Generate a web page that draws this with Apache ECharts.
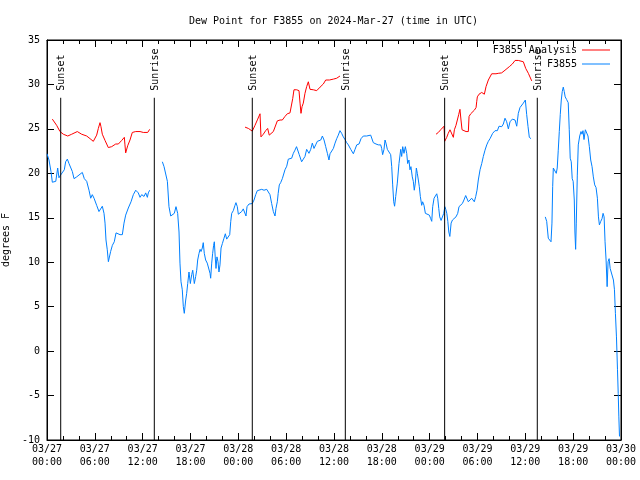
<!DOCTYPE html>
<html><head><meta charset="utf-8">
<script src="https://cdn.jsdelivr.net/npm/echarts@6/dist/echarts.min.js"></script>
<style>html,body{margin:0;padding:0;background:#fff}#c{width:640px;height:480px}</style>
</head><body><div id="c"></div>
<script>
// time in hours since 03/27 00:00 UTC; null value = gap in data
const dewTimes = [0.0,0.25,0.5,0.67,1.1,1.34,1.5,1.7,1.84,2.17,2.34,2.55,2.76,2.97,3.18,3.39,3.72,4.14,4.43,4.68,4.98,5.27,5.48,5.68,5.9,6.23,6.52,6.73,6.94,7.15,7.28,7.4,7.56,7.7,7.82,7.98,8.2,8.44,8.66,8.86,9.16,9.45,9.66,9.87,10.2,10.54,10.83,11.13,11.45,11.67,11.88,12.17,12.38,12.59,12.71,12.88,
13.6,
14.47,14.68,14.93,15.1,15.3,15.52,15.77,15.97,16.18,16.39,16.56,16.68,16.81,16.97,17.1,17.22,17.4,17.52,17.65,17.81,17.98,18.15,18.28,18.48,18.65,18.78,18.9,19.07,19.2,19.32,19.48,19.6,19.73,19.9,20.1,20.32,20.45,20.53,20.66,20.78,20.9,20.99,21.1,21.2,21.32,21.45,21.57,21.7,21.83,22.0,22.2,22.37,22.54,22.74,22.92,23.05,23.17,23.37,23.58,23.7,23.87,24.0,24.2,24.42,24.62,24.84,24.96,25.09,25.34,25.59,25.75,25.97,26.18,26.38,26.63,26.93,27.22,27.56,27.76,27.97,28.18,28.39,28.6,28.72,28.89,29.0,29.14,29.31,29.52,29.73,29.85,30.07,30.27,30.48,30.69,30.9,31.1,31.3,31.5,31.64,31.82,31.94,32.15,32.36,32.57,32.7,32.86,33.08,33.28,33.49,33.7,33.91,34.12,34.34,34.54,34.75,34.96,35.17,35.37,35.5,35.71,35.92,36.13,36.34,36.54,36.75,36.96,37.17,37.38,37.59,37.8,38.1,38.43,38.64,38.85,39.14,39.39,39.68,40.1,40.6,40.73,40.93,41.27,41.56,41.86,41.98,42.1,42.27,42.4,42.52,42.69,42.9,43.11,43.24,43.36,43.49,43.6,43.74,43.94,44.15,44.37,44.49,44.62,44.78,44.95,45.12,45.24,45.4,45.53,45.65,45.82,45.95,46.07,46.2,46.33,46.45,46.58,46.7,46.83,47.0,47.12,47.29,47.46,47.71,47.96,48.13,48.26,48.38,48.55,48.76,48.89,49.01,49.14,49.26,49.43,49.6,49.77,49.9,50.02,50.15,50.28,50.4,50.53,50.69,50.86,51.05,51.3,51.52,51.68,51.89,52.1,52.3,52.52,52.72,52.85,53.06,53.27,53.48,53.6,53.78,53.94,54.1,54.32,54.53,54.73,54.94,55.16,55.36,55.57,55.9,56.2,56.49,56.7,57.04,57.24,57.45,57.66,57.87,58.08,58.37,58.71,58.92,59.12,59.33,59.54,59.75,59.87,60.0,60.17,60.34,60.5,60.71,
61.6,
62.5,62.68,62.88,63.1,63.22,63.34,63.43,63.51,63.72,63.88,64.0,64.13,64.26,64.38,64.51,64.63,64.76,64.88,65.0,65.18,65.38,65.51,65.63,65.76,65.88,66.0,66.14,66.22,66.31,66.39,66.52,66.64,66.82,66.98,67.11,67.23,67.36,67.53,67.7,67.86,68.03,68.2,68.37,68.53,68.7,68.87,69.04,69.17,69.29,69.46,69.62,69.75,69.88,70.0,70.13,70.26,70.38,70.51,70.64,70.85,71.05,71.18,71.3,71.43,71.56,71.65,71.73,71.81];
const dewValues = [22.2,21.5,20.2,19.0,19.1,20.6,19.5,19.8,19.8,20.4,21.3,21.6,21.1,21.3,20.2,19.4,19.6,19.9,20.1,19.4,19.1,18.1,17.2,17.6,17.2,16.4,15.7,15.5,16.3,15.5,14.4,12.5,11.4,10.06,10.0,11.2,11.9,12.3,13.3,13.1,13.1,13.1,14.4,15.3,16.1,16.8,17.6,18.1,17.8,17.3,17.6,17.4,17.8,17.3,17.8,18.1,
null,
21.3,20.75,20.7,19.1,16.25,15.2,15.2,15.5,16.25,15.5,13.4,9.9,7.8,6.9,5.0,4.25,5.75,6.5,7.6,8.9,7.6,8.6,9.1,7.6,8.4,9.1,10.25,11.0,11.45,11.2,11.6,12.2,11.0,10.25,9.9,9.9,8.75,8.2,9.9,11.0,11.9,12.3,10.6,9.3,10.6,10.06,8.9,9.7,11.6,12.1,12.7,13.2,12.6,12.4,13.1,14.6,15.5,15.8,16.4,16.7,16.25,15.4,15.4,15.7,16.0,16.2,15.2,16.25,16.55,16.6,16.6,17.0,17.6,18.05,18.05,18.2,18.1,18.2,18.1,17.6,16.6,15.7,15.2,16.05,16.8,17.75,18.7,18.95,19.4,19.6,20.4,20.8,21.6,21.7,21.7,22.25,22.6,23.0,23.1,22.1,22.2,21.3,21.6,21.9,22.7,22.9,22.25,22.7,23.4,22.8,23.2,23.6,23.4,23.75,24.2,23.75,23.0,22.25,21.5,22.2,22.25,22.8,23.4,23.9,24.3,24.8,24.5,24.1,23.8,23.45,23.2,22.7,22.2,22.7,23.2,23.3,23.9,24.2,24.2,24.3,24.1,23.45,23.3,23.2,23.2,22.8,22.1,22.7,23.75,23.4,22.7,22.4,22.1,20.75,18.7,16.8,16.3,17.4,18.9,21.1,22.7,21.9,23.0,22.25,23.0,22.25,21.1,21.5,20.4,20.75,19.6,19.1,18.1,18.9,20.6,20.0,19.25,18.5,17.4,16.4,16.8,16.4,15.5,15.4,15.3,14.9,14.6,16.25,17.2,17.4,17.7,17.2,16.05,15.1,14.7,14.9,15.5,16.25,15.95,15.5,14.6,13.4,12.9,14.4,14.75,14.9,15.1,15.5,16.25,16.4,16.6,17.0,17.5,17.5,16.8,16.6,17.2,17.4,16.8,17.4,18.1,19.25,20.4,21.1,21.9,22.6,23.2,23.6,23.9,24.5,24.8,24.8,25.3,25.25,25.55,26.2,25.8,25.0,25.8,26.1,26.0,25.3,26.75,27.4,27.6,27.9,27.7,28.25,26.6,25.25,24.05,23.9,
null,
15.1,14.6,12.7,12.5,12.3,14.4,18.5,20.6,20.6,20.0,20.6,22.6,24.7,26.6,28.25,29.2,29.7,29.2,28.6,28.3,27.95,24.9,21.7,21.3,19.4,19.1,17.0,13.4,11.45,14.4,19.8,23.2,24.2,24.7,24.4,24.8,23.8,24.9,25.0,24.2,23.0,21.5,20.75,19.6,18.7,18.4,17.2,15.1,14.2,14.6,14.9,15.5,15.1,12.3,10.25,7.25,10.06,10.4,9.3,9.1,8.0,6.9,4.25,1.6,-2.1,-4.75,-7.4,-9.6];

const anaTimes = [0.67,0.92,1.21,1.63,2.05,2.6,3.1,3.8,4.35,4.98,5.4,5.81,6.02,6.23,6.44,6.65,6.77,6.94,7.28,7.69,8.11,8.62,8.95,9.37,9.7,9.78,9.87,10.12,10.41,10.7,11.13,11.67,12.08,12.63,12.88,
18.0,
24.84,25.26,25.75,26.09,26.43,26.72,26.84,27.13,27.43,27.68,27.88,28.1,28.39,28.64,28.89,29.23,29.52,29.85,30.14,30.48,30.69,30.82,30.98,31.32,31.61,31.74,31.86,31.99,32.15,32.36,32.57,32.78,32.99,33.41,33.83,34.25,34.66,34.96,35.42,35.92,36.34,36.75,
42.0,
48.8,49.09,49.38,49.63,49.8,49.88,50.14,50.33,50.55,50.76,50.97,51.1,51.3,51.47,51.64,51.8,51.93,52.06,52.31,52.56,52.85,52.94,53.15,53.4,53.6,53.82,53.9,53.98,54.19,54.53,54.73,54.86,55.07,55.36,55.78,56.32,56.6,57.03,57.45,57.99,58.37,58.71,59.12,59.75,60.05,60.38,60.8];
const anaValues = [26.1,26.1,25.4,24.7,24.4,24.2,24.4,24.7,24.4,24.2,23.9,23.6,23.6,24.3,25.05,25.7,25.25,24.4,23.7,22.9,23.0,23.3,23.3,23.7,24.05,23.2,22.3,23.1,23.75,24.6,24.7,24.7,24.6,24.6,24.95,
null,
25.2,25.05,24.75,25.4,26.1,26.7,24.1,24.4,24.8,25.05,24.3,24.5,24.7,24.9,25.9,26.0,26.0,26.4,26.7,26.8,26.9,28.4,29.4,29.4,29.3,27.9,26.75,27.5,27.9,29.0,29.75,30.3,29.45,29.4,29.3,29.7,30.05,30.5,30.5,30.6,30.7,30.95,
null,
24.4,24.6,24.9,25.05,25.3,23.6,24.05,24.5,24.9,25.05,24.05,24.9,25.4,26.0,26.6,27.2,26.0,24.9,24.7,24.7,24.7,26.4,26.7,26.9,27.1,27.4,28.05,28.6,28.9,29.1,29.2,28.9,29.75,30.5,31.2,31.2,31.25,31.3,31.6,32.0,32.3,32.7,32.7,32.55,31.8,31.25,30.4];

const sunTimes = [1.72, 13.46, 25.75, 37.42, 49.88, 61.5];
const sunLabels = ['Sunset','Sunrise','Sunset','Sunrise','Sunset','Sunrise'];

const xTickLabels = ['03/27\n00:00','03/27\n06:00','03/27\n12:00','03/27\n18:00','03/28\n00:00','03/28\n06:00','03/28\n12:00','03/28\n18:00','03/29\n00:00','03/29\n06:00','03/29\n12:00','03/29\n18:00','03/30\n00:00'];

const FONT = 'DejaVu Sans Mono';
const zip = (t, v) => t.map((x, i) => [x, v[i] === null ? '-' : v[i]]);

const chart = echarts.init(document.getElementById('c'), null, {renderer: 'canvas'});
const tick = () => ({show: true, inside: true, length: 7, lineStyle: {color: '#000', width: 1}});
const minor = () => ({show: true, splitNumber: 3, length: 4, lineStyle: {color: '#000', width: 1}});
const axLine = () => ({show: true, onZero: false, lineStyle: {color: '#000', width: 1}});
const legText = {fontFamily: FONT, fontSize: 10, color: '#000'};
chart.setOption({
  animation: false,
  backgroundColor: '#fff',
  title: {
    text: 'Dew Point for F3855 on 2024-Mar-27 (time in UTC)',
    left: 184, top: 11,
    textStyle: {fontFamily: FONT, fontSize: 10, fontWeight: 'normal', color: '#000'}
  },
  legend: [
    {data: ['F3855 Analysis'], right: 25, top: 40, orient: 'vertical', align: 'right',
     icon: 'rect', itemWidth: 28, itemHeight: 1, textStyle: legText},
    {data: ['F3855'], right: 25, top: 54, orient: 'vertical', align: 'right',
     icon: 'rect', itemWidth: 28, itemHeight: 1, textStyle: legText}
  ],
  grid: {left: 47, right: 19, top: 40, bottom: 40, outerBoundsMode: 'none', containLabel: false,
         show: true, borderColor: '#000', borderWidth: 1, backgroundColor: 'transparent'},
  xAxis: [
    {type: 'value', min: 0, max: 72, interval: 6, position: 'bottom',
     axisLine: axLine(), axisTick: tick(), minorTick: minor(), splitLine: {show: false},
     axisLabel: {fontFamily: FONT, fontSize: 10, color: '#000', margin: 3, lineHeight: 13,
       formatter: v => xTickLabels[Math.round(v / 6)]}},
    {type: 'value', min: 0, max: 72, interval: 6, position: 'top',
     axisLine: axLine(), axisTick: tick(), minorTick: minor(), splitLine: {show: false},
     axisLabel: {show: false}}
  ],
  yAxis: [
    {type: 'value', min: -10, max: 35, interval: 5, position: 'left',
     name: 'degrees F', nameLocation: 'middle', nameGap: 31, nameRotate: 90,
     nameTextStyle: {fontFamily: FONT, fontSize: 10, color: '#000'},
     axisLine: axLine(), axisTick: tick(), splitLine: {show: false},
     axisLabel: {fontFamily: FONT, fontSize: 10, color: '#000', margin: 7}},
    {type: 'value', min: -10, max: 35, interval: 5, position: 'right',
     axisLine: axLine(), axisTick: tick(), splitLine: {show: false}, axisLabel: {show: false}}
  ],
  series: [
    {name: 'F3855 Analysis', type: 'line', data: zip(anaTimes, anaValues), symbol: 'none',
     connectNulls: false, lineStyle: {color: '#ff0000', width: 1}, itemStyle: {color: '#ff0000'}, z: 3},
    {name: 'F3855', type: 'line', data: zip(dewTimes, dewValues), symbol: 'none',
     connectNulls: false, lineStyle: {color: '#0080ff', width: 1}, itemStyle: {color: '#0080ff'}, z: 3},
    {name: 'sun', type: 'custom', data: sunTimes.map((t, i) => [t, i]), z: 4,
     renderItem: (params, api) => {
       const t = api.value(0);
       const lbl = sunLabels[api.value(1)];
       const p0 = api.coord([t, -10]);
       const p1 = api.coord([t, 28.5]);
       const pt = api.coord([t, 29.3]);
       return {type: 'group', children: [
         {type: 'line', shape: {x1: p0[0], y1: p0[1], x2: p1[0], y2: p1[1]}, style: {stroke: '#000', lineWidth: 1}},
         {type: 'text', x: pt[0] + 1, y: pt[1], rotation: Math.PI / 2,
          style: {text: lbl, align: 'left', verticalAlign: 'middle', font: '10px "' + FONT + '"', fill: '#000'}}
       ]};
     }}
  ]
});
</script>
</body></html>
